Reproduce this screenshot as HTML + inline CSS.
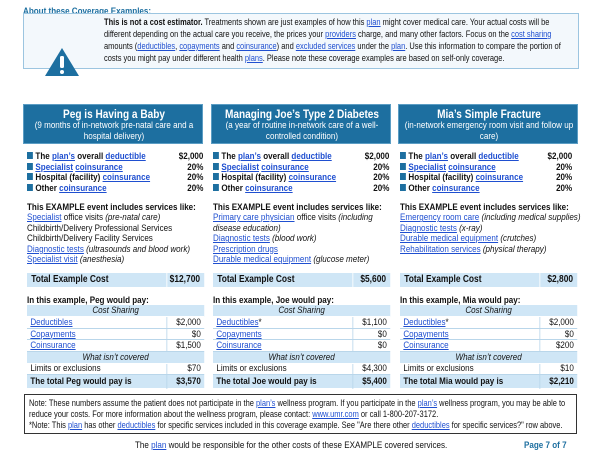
<!DOCTYPE html>
<html><head><meta charset="utf-8"><style>
*{margin:0;padding:0;box-sizing:border-box}
body{width:600px;height:463px;background:#fff;position:relative;overflow:hidden;font-family:"Liberation Sans",sans-serif;font-size:9.6px;color:#111;line-height:1}
.a{position:absolute;white-space:nowrap}
.n{transform:scaleX(.84);transform-origin:0 0}
.m{transform:scaleX(.78);transform-origin:0 0}
.l{color:#1f4fd0;text-decoration:underline}
.b{font-weight:bold}
.i{font-style:italic}
.hd{position:absolute;top:104px;height:40px;width:180px;background:#1d6fa0;color:#fff;text-align:center;border:1px solid #5b9dc4;overflow:hidden}
.hd>div{width:214px;margin-left:-17px;transform:scaleX(.84);transform-origin:50% 0}
.hd .t{font-weight:bold;font-size:12px;margin-top:3px}
.hd .s{font-size:9.6px;margin-top:1px;line-height:10.5px}
.sq{display:inline-block;width:7px;height:7px;background:#1d6fa0;margin-right:3px;vertical-align:0}
.bl{background:#cfe6f6}
.tb{width:211px}
.tb .r{height:11.6px;border-bottom:1px solid #b9d6ea;padding:1px 4px}
.tb .v{position:absolute;left:166px;border-left:1px solid #b9d6ea}
</style></head><body>
<div class="a b n" style="left:23px;top:7px;color:#1d6fa0">About these Coverage Examples:</div>
<div class="a" style="left:23px;top:13px;width:556px;height:56px;border:1px solid #9cc5e0;background:#f3f8fc"></div>
<svg class="a" style="left:44px;top:47px" width="36" height="30" viewBox="0 0 36 30"><path d="M18 1 L35 29 L1 29 Z" fill="#1d6fa0"/><rect x="16" y="9" width="4" height="12" rx="1.5" fill="#fff"/><circle cx="18" cy="25" r="2" fill="#fff"/></svg>
<div class="a m" style="left:104px;top:17px;line-height:12px">
<span class="b">This is not a cost estimator.</span> Treatments shown are just examples of how this <span class="l">plan</span> might cover medical care. Your actual costs will be<br>
different depending on the actual care you receive, the prices your <span class="l">providers</span> charge, and many other factors. Focus on the <span class="l">cost sharing</span><br>
amounts (<span class="l">deductibles</span>, <span class="l">copayments</span> and <span class="l">coinsurance</span>) and <span class="l">excluded services</span> under the <span class="l">plan</span>. Use this information to compare the portion of<br>
costs you might pay under different health <span class="l">plans</span>. Please note these coverage examples are based on self-only coverage.</div>

<div class="hd" style="left:23px"><div><div class="t">Peg is Having a Baby</div><div class="s">(9 months of in-network pre-natal care and a<br>hospital delivery)</div></div></div>
<div class="hd" style="left:211px"><div><div class="t">Managing Joe’s Type 2 Diabetes</div><div class="s">(a year of routine in-network care of a well-<br>controlled condition)</div></div></div>
<div class="hd" style="left:398px"><div><div class="t">Mia’s Simple Fracture</div><div class="s">(in-network emergency room visit and follow up<br>care)</div></div></div>

<div class="a n b" style="left:27px;top:152px;width:210px;line-height:10.5px">
<div><span class="sq"></span>The <span class="l">plan’s</span> overall <span class="l">deductible</span><span style="float:right">$2,000</span></div>
<div><span class="sq"></span><span class="l">Specialist</span> <span class="l">coinsurance</span><span style="float:right">20%</span></div>
<div><span class="sq"></span>Hospital (facility) <span class="l">coinsurance</span><span style="float:right">20%</span></div>
<div><span class="sq"></span>Other <span class="l">coinsurance</span><span style="float:right">20%</span></div>
</div>
<div class="a n b" style="left:213px;top:152px;width:210px;line-height:10.5px">
<div><span class="sq"></span>The <span class="l">plan’s</span> overall <span class="l">deductible</span><span style="float:right">$2,000</span></div>
<div><span class="sq"></span><span class="l">Specialist</span> <span class="l">coinsurance</span><span style="float:right">20%</span></div>
<div><span class="sq"></span>Hospital (facility) <span class="l">coinsurance</span><span style="float:right">20%</span></div>
<div><span class="sq"></span>Other <span class="l">coinsurance</span><span style="float:right">20%</span></div>
</div>
<div class="a n b" style="left:400px;top:152px;width:205px;line-height:10.5px">
<div><span class="sq"></span>The <span class="l">plan’s</span> overall <span class="l">deductible</span><span style="float:right">$2,000</span></div>
<div><span class="sq"></span><span class="l">Specialist</span> <span class="l">coinsurance</span><span style="float:right">20%</span></div>
<div><span class="sq"></span>Hospital (facility) <span class="l">coinsurance</span><span style="float:right">20%</span></div>
<div><span class="sq"></span>Other <span class="l">coinsurance</span><span style="float:right">20%</span></div>
</div>

<div class="a n" style="left:27px;top:203px;line-height:10.4px"><div class="b">This EXAMPLE event includes services like:</div>
<div><span class="l">Specialist</span> office visits <i>(pre-natal care)</i></div><div>Childbirth/Delivery Professional Services</div><div>Childbirth/Delivery Facility Services</div><div><span class="l">Diagnostic tests</span> <i>(ultrasounds and blood work)</i></div><div><span class="l">Specialist visit</span> <i>(anesthesia)</i></div></div>
<div class="a n" style="left:213px;top:203px;line-height:10.4px"><div class="b">This EXAMPLE event includes services like:</div>
<div><span class="l">Primary care physician</span> office visits <i>(including</i></div><div><i>disease education)</i></div><div><span class="l">Diagnostic tests</span> <i>(blood work)</i></div><div><span class="l">Prescription drugs</span></div><div><span class="l">Durable medical equipment</span> <i>(glucose meter)</i></div></div>
<div class="a n" style="left:400px;top:203px;line-height:10.4px"><div class="b">This EXAMPLE event includes services like:</div>
<div><span class="l">Emergency room care</span> <i>(including medical supplies)</i></div><div><span class="l">Diagnostic tests</span> <i>(x-ray)</i></div><div><span class="l">Durable medical equipment</span> <i>(crutches)</i></div><div><span class="l">Rehabilitation services</span> <i>(physical therapy)</i></div></div>

<div class="a bl b n" style="left:27px;top:273px;width:211px;height:14px;padding:2px 5px;font-size:10px">Total Example Cost<span style="position:absolute;left:166px;top:0;height:14px;border-left:1px solid #fff"></span><span style="float:right">$12,700</span></div>
<div class="a bl b n" style="left:213px;top:273px;width:211px;height:14px;padding:2px 5px;font-size:10px">Total Example Cost<span style="position:absolute;left:166px;top:0;height:14px;border-left:1px solid #fff"></span><span style="float:right">$5,600</span></div>
<div class="a bl b n" style="left:400px;top:273px;width:211px;height:14px;padding:2px 5px;font-size:10px">Total Example Cost<span style="position:absolute;left:166px;top:0;height:14px;border-left:1px solid #fff"></span><span style="float:right">$2,800</span></div>

<div class="a b n" style="left:27px;top:296px">In this example, Peg would pay:</div>
<div class="a b n" style="left:213px;top:296px">In this example, Joe would pay:</div>
<div class="a b n" style="left:400px;top:296px">In this example, Mia would pay:</div>

<div class="a n tb" style="left:27px;top:305px">
<div class="bl i" style="height:12px;text-align:center;padding-top:1px;border-bottom:1px solid #fff">Cost Sharing</div>
<div class="r"><span class="l">Deductibles</span><span style="float:right">$2,000</span></div>
<div class="r"><span class="l">Copayments</span><span style="float:right">$0</span></div>
<div class="r"><span class="l">Coinsurance</span><span style="float:right">$1,500</span></div>
<div class="bl i" style="height:11.6px;text-align:center;padding-top:1px">What isn’t covered</div>
<div class="r">Limits or exclusions<span style="float:right">$70</span></div>
<div class="bl b" style="height:13px;padding:2px 4px">The total Peg would pay is<span style="float:right">$3,570</span></div>
<div class="v" style="top:12px;height:35px"></div><div class="v" style="top:59px;height:25px"></div>
</div>
<div class="a n tb" style="left:213px;top:305px">
<div class="bl i" style="height:12px;text-align:center;padding-top:1px;border-bottom:1px solid #fff">Cost Sharing</div>
<div class="r"><span class="l">Deductibles</span>*<span style="float:right">$1,100</span></div>
<div class="r"><span class="l">Copayments</span><span style="float:right">$0</span></div>
<div class="r"><span class="l">Coinsurance</span><span style="float:right">$0</span></div>
<div class="bl i" style="height:11.6px;text-align:center;padding-top:1px">What isn’t covered</div>
<div class="r">Limits or exclusions<span style="float:right">$4,300</span></div>
<div class="bl b" style="height:13px;padding:2px 4px">The total Joe would pay is<span style="float:right">$5,400</span></div>
<div class="v" style="top:12px;height:35px"></div><div class="v" style="top:59px;height:25px"></div>
</div>
<div class="a n tb" style="left:400px;top:305px">
<div class="bl i" style="height:12px;text-align:center;padding-top:1px;border-bottom:1px solid #fff">Cost Sharing</div>
<div class="r"><span class="l">Deductibles</span>*<span style="float:right">$2,000</span></div>
<div class="r"><span class="l">Copayments</span><span style="float:right">$0</span></div>
<div class="r"><span class="l">Coinsurance</span><span style="float:right">$200</span></div>
<div class="bl i" style="height:11.6px;text-align:center;padding-top:1px">What isn’t covered</div>
<div class="r">Limits or exclusions<span style="float:right">$10</span></div>
<div class="bl b" style="height:13px;padding:2px 4px">The total Mia would pay is<span style="float:right">$2,210</span></div>
<div class="v" style="top:12px;height:35px"></div><div class="v" style="top:59px;height:25px"></div>
</div>

<div class="a" style="left:24px;top:394px;width:553px;height:40px;border:1px solid #333"></div>
<div class="a m" style="left:29px;top:398px;line-height:11px">
Note: These numbers assume the patient does not participate in the <span class="l">plan’s</span> wellness program. If you participate in the <span class="l">plan’s</span> wellness program, you may be able to<br>
reduce your costs. For more information about the wellness program, please contact: <span class="l">www.umr.com</span> or call 1-800-207-3172.<br>
*Note: This <span class="l">plan</span> has other <span class="l">deductibles</span> for specific services included in this coverage example. See "Are there other <span class="l">deductibles</span> for specific services?" row above.</div>

<div class="a n" style="left:135px;top:441px">The <span class="l">plan</span> would be responsible for the other costs of these EXAMPLE covered services.</div>
<div class="a b n" style="left:524px;top:441px;color:#1d6fa0">Page 7 of 7</div>
</body></html>
